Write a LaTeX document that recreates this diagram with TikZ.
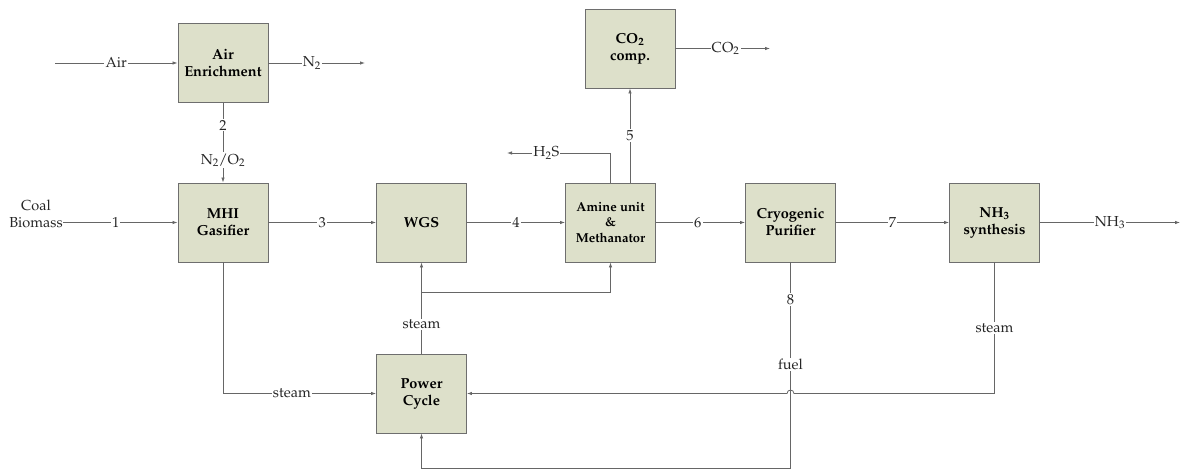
\documentclass[tikz,border=0pt]{standalone}
\usepackage[T1]{fontenc}
\usepackage{mathpazo}
\usetikzlibrary{arrows.meta,calc}
\definecolor{boxfill}{HTML}{DDE0CA}
\definecolor{boxline}{HTML}{6E6E6E}
\definecolor{wire}{HTML}{666666}
\tikzset{
  unit/.style={draw=boxline, fill=boxfill, line width=0.9pt, minimum width=90pt, minimum height=79pt, inner sep=0pt, align=center, font=\fontsize{14.5}{17}\selectfont\bfseries},
  lbl/.style={fill=white, inner sep=1.2pt, font=\fontsize{14.5}{17}\selectfont, text=black!85},
  arr/.style={draw=wire, line width=0.8pt, -{Latex[length=5pt,width=3.5pt]}},
  wireline/.style={draw=wire, line width=0.8pt}
}
\begin{document}
\begin{tikzpicture}[x=1pt,y=-1pt]
\useasboundingbox (0,0) rectangle (1183,470);
% units
\node[unit] (AE) at (223,63) {Air\\Enrichment};
\node[unit] (MHI) at (223,222.5) {MHI\\Gasifier};
\node[unit] (WGS) at (421.5,222.5) {WGS};
\node[unit, font=\fontsize{13}{15.5}\selectfont\bfseries] (AM) at (610.5,222.5) {Amine unit\\\&\\Methanator};
\node[unit] (CRY) at (790.5,222.5) {Cryogenic\\Purifier};
\node[unit] (NH) at (994.5,222.5) {NH\textsubscript{3}\\synthesis};
\node[unit] (CO) at (630,48.5) {CO\textsubscript{2}\\comp.};
\node[unit] (PC) at (421.5,393.5) {Power\\Cycle};
% free ends
\coordinate (airin) at (55,63);
\coordinate (n2out) at (365,63);
\coordinate (co2out) at (770,48.5);
\coordinate (nh3out) at (1180,222.5);
\coordinate (h2sout) at (507,153);
\coordinate (br) at (421.5,292.5);
\coordinate (fb) at (790.5,468);
\node[align=center, font=\fontsize{14.5}{17.5}\selectfont, text=black!85, inner sep=0pt] (feed) at (36,214) {Coal\\Biomass};
% connectors
\draw[arr] (airin) -- node[lbl]{Air} (AE.west);
\draw[arr] (AE.east) -- node[lbl,pos=.45]{N\textsubscript{2}} (n2out);
\draw[arr] (AE.south) -- node[lbl,pos=.28]{2} node[lbl,pos=.72]{N\textsubscript{2}/O\textsubscript{2}} (MHI.north);
\draw[arr] (feed.east |- MHI.west) -- node[lbl,pos=.46]{1} (MHI.west);
\draw[arr] (MHI.east) -- node[lbl]{3} (WGS.west);
\draw[arr] (WGS.east) -- node[lbl]{4} (AM.west);
\draw[arr] (AM.east) -- node[lbl,pos=.47]{6} (CRY.west);
\draw[arr] (CRY.east) -- node[lbl]{7} (NH.west);
\draw[arr] (NH.east) -- node[lbl]{NH\textsubscript{3}} (nh3out);
\draw[arr] (CO.east) -- node[lbl,pos=.53]{CO\textsubscript{2}} (co2out);
\draw[arr] (CO.south |- AM.north) -- node[lbl]{5} (CO.south);
\draw[arr] (AM.north) |- node[lbl,pos=.81]{H\textsubscript{2}S} (h2sout);
\draw[arr] (PC.north) -- node[lbl,pos=.32]{steam} (WGS.south);
\draw[arr] (br) -| (AM.south);
\draw[arr] (MHI.south) |- node[lbl,pos=.725]{steam} (PC.west);
\draw[arr] (CRY.south) -- node[lbl,pos=.18]{8} node[lbl,pos=.495]{fuel} (fb) -| (PC.south);
\draw[wireline] (NH.south) -- node[lbl,pos=.5]{steam} (NH.south |- PC.east);
\draw[arr] (NH.south |- PC.east) -- ($(CRY.south |- PC.east)+(3.5,0)$)
  .. controls ($(CRY.south |- PC.east)+(3.5,-4.5)$) and ($(CRY.south |- PC.east)+(-3.5,-4.5)$) .. ($(CRY.south |- PC.east)+(-3.5,0)$)
  -- (PC.east);
\end{tikzpicture}
\end{document}
